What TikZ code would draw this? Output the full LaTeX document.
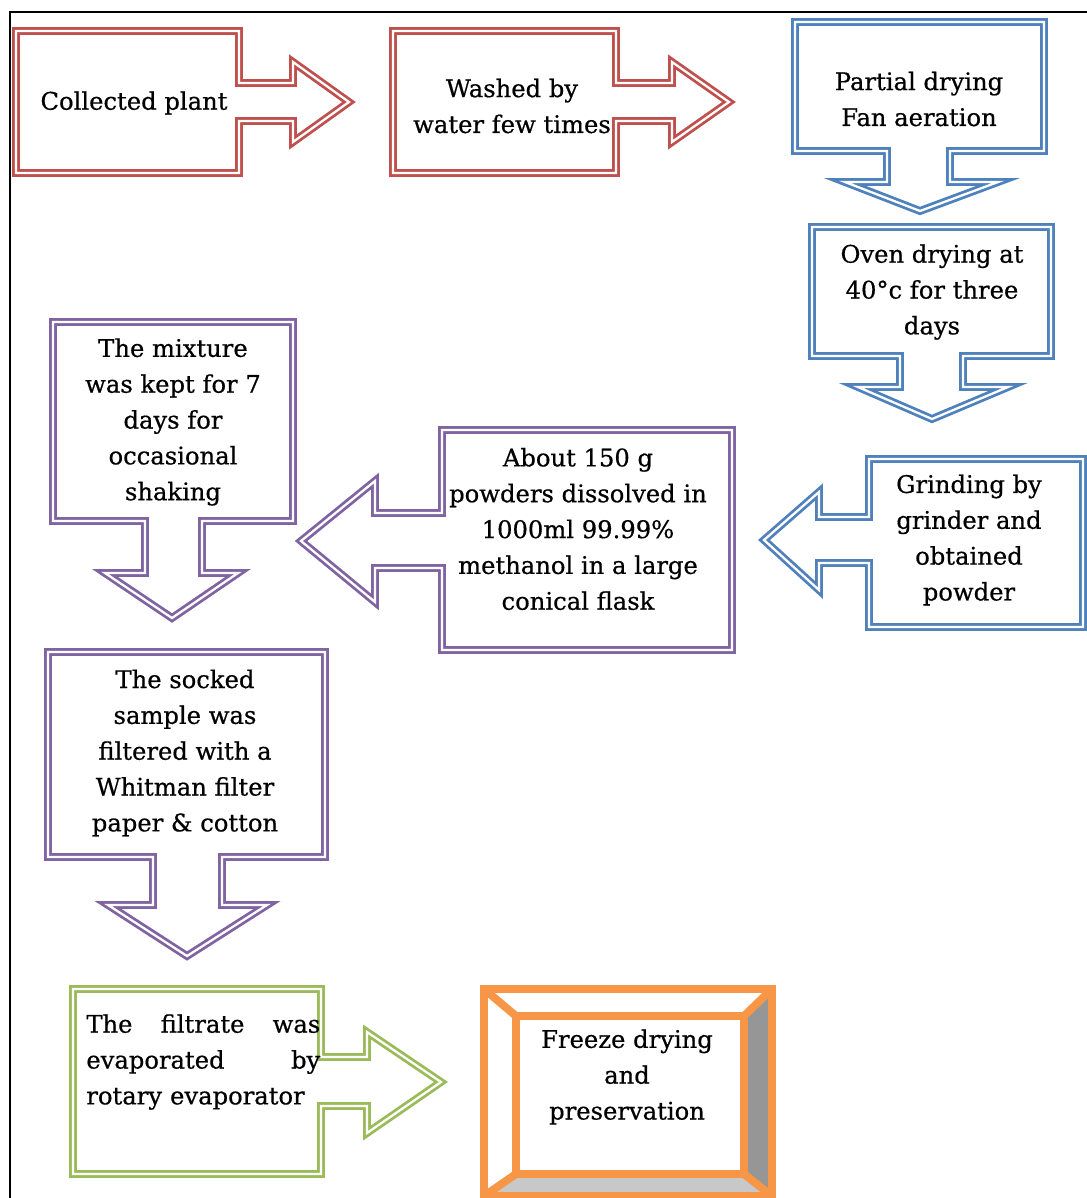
\documentclass[tikz,border=0pt]{standalone}
\usepackage{fontspec}
\setmainfont{DejaVu Serif}[FakeBold=0.6]
\usepackage{tikz}
\definecolor{calloutred}{HTML}{C0504D}
\definecolor{calloutblue}{HTML}{4F81BD}
\definecolor{calloutpurple}{HTML}{8064A2}
\definecolor{calloutgreen}{HTML}{9BBB59}
\definecolor{bevelorange}{HTML}{F79646}
\definecolor{bevelgray}{HTML}{969696}
\definecolor{bevellight}{HTML}{C8C8C8}

\begin{document}
\begin{tikzpicture}[x=0.02cm,y=0.02cm,
  calloutline/.style={fill=white, double, line width=1.6pt, double distance=1.3pt, line join=miter},
  redline/.style={calloutline, draw=calloutred},
  blueline/.style={calloutline, draw=calloutblue},
  purpleline/.style={calloutline, draw=calloutpurple},
  greenline/.style={calloutline, draw=calloutgreen},
  bevelline/.style={draw=bevelorange, line width=4.5pt, line join=miter}]
\tikzstyle{every node}+=[inner sep=0pt, align=center, font=\fontsize{13.8pt}{20.4pt}\selectfont]
\useasboundingbox (0,0) rectangle (1087,-1198);
% frame
\draw [black, line width=1.3pt] (10,-1198) -- (10,-12) -- (1087,-12);
% top row, red
\draw [redline] (16,-31) -- (239,-31) -- (239,-83) -- (293,-83) -- (293,-62) -- (349,-102) -- (293,-142) -- (293,-121) -- (239,-121) -- (239,-173) -- (16,-173) -- cycle;
\draw [redline] (393,-31) -- (616,-31) -- (616,-83) -- (672,-83) -- (672,-62) -- (729,-102) -- (672,-142) -- (672,-121) -- (616,-121) -- (616,-173) -- (393,-173) -- cycle;
% right column, blue
\draw [blueline] (795,-22) -- (1044,-22) -- (1044,-151) -- (950,-151) -- (950,-182) -- (998,-182) -- (920,-211) -- (845,-182) -- (887,-182) -- (887,-151) -- (795,-151) -- cycle;
\draw [blueline] (812,-227) -- (1051,-227) -- (1051,-356) -- (963,-356) -- (963,-387) -- (1008,-387) -- (932,-419) -- (858,-387) -- (900,-387) -- (900,-356) -- (812,-356) -- cycle;
\draw [blueline] (1083,-459) -- (1083,-627) -- (869,-627) -- (869,-563) -- (819,-563) -- (819,-590) -- (764,-540) -- (819,-492) -- (819,-517) -- (869,-517) -- (869,-459) -- cycle;
% middle, purple
\draw [purpleline] (732,-430) -- (732,-650) -- (442,-650) -- (442,-568) -- (375,-568) -- (375,-602) -- (301,-541) -- (375,-481) -- (375,-513) -- (442,-513) -- (442,-430) -- cycle;
\draw [purpleline] (53,-322) -- (293,-322) -- (293,-521) -- (202,-521) -- (202,-573) -- (238,-573) -- (172,-618) -- (105,-573) -- (145,-573) -- (145,-521) -- (53,-521) -- cycle;
\draw [purpleline] (48,-652) -- (325,-652) -- (325,-857) -- (222,-857) -- (222,-905) -- (267,-905) -- (187,-956) -- (108,-905) -- (153,-905) -- (153,-857) -- (48,-857) -- cycle;
% bottom row
\draw [greenline] (73,-989) -- (321,-989) -- (321,-1057) -- (367,-1057) -- (367,-1032) -- (441,-1082) -- (367,-1133) -- (367,-1106) -- (321,-1106) -- (321,-1174) -- (73,-1174) -- cycle;
\fill [white] (484,-989) -- (772,-989) -- (744,-1016) -- (516,-1016) -- cycle;
\fill [bevelgray] (772,-989) -- (772,-1196) -- (744,-1174) -- (744,-1016) -- cycle;
\fill [bevellight] (772,-1196) -- (484,-1196) -- (516,-1174) -- (744,-1174) -- cycle;
\fill [white] (484,-1196) -- (484,-989) -- (516,-1016) -- (516,-1174) -- cycle;
\fill [white] (516,-1016) rectangle (744,-1174);
\draw [bevelline] (484,-989) rectangle (772,-1196);
\draw [bevelline] (516,-1016) rectangle (744,-1174);
\draw [bevelline] (484,-989) -- (516,-1016);
\draw [bevelline] (772,-989) -- (744,-1016);
\draw [bevelline] (772,-1196) -- (744,-1174);
\draw [bevelline] (484,-1196) -- (516,-1174);
% texts
\node (collect) at (134,-103) {Collected plant};
\node (wash) at (512,-106) {Washed by\\water few times};
\node (fan) at (919,-99) {Partial drying\\Fan aeration};
\node (oven) at (932,-292) {Oven drying at\\40°c for three\\days};
\node (grind) at (969,-540) {Grinding by\\grinder and\\obtained\\powder};
\node (dissolve) at (578,-529) {About 150 g\\powders dissolved in\\1000ml 99.99\%\\methanol in a large\\conical flask};
\node (mixture) at (173,-422) {The mixture\\was kept for 7\\days for\\occasional\\shaking};
\node (filter) at (185,-753) {The socked\\sample was\\filtered with a\\Whitman filter\\paper \& cotton};
\node (evaporate) [anchor=west, text width=4.68cm, align=left] at (86,-1062) {\makebox[4.68cm][l]{The\hfill filtrate\hfill was}\\\makebox[4.68cm][l]{evaporated\hfill by}\\rotary evaporator};
\node (freeze) at (627,-1077) {Freeze drying\\and\\preservation};
\end{tikzpicture}
\end{document}
